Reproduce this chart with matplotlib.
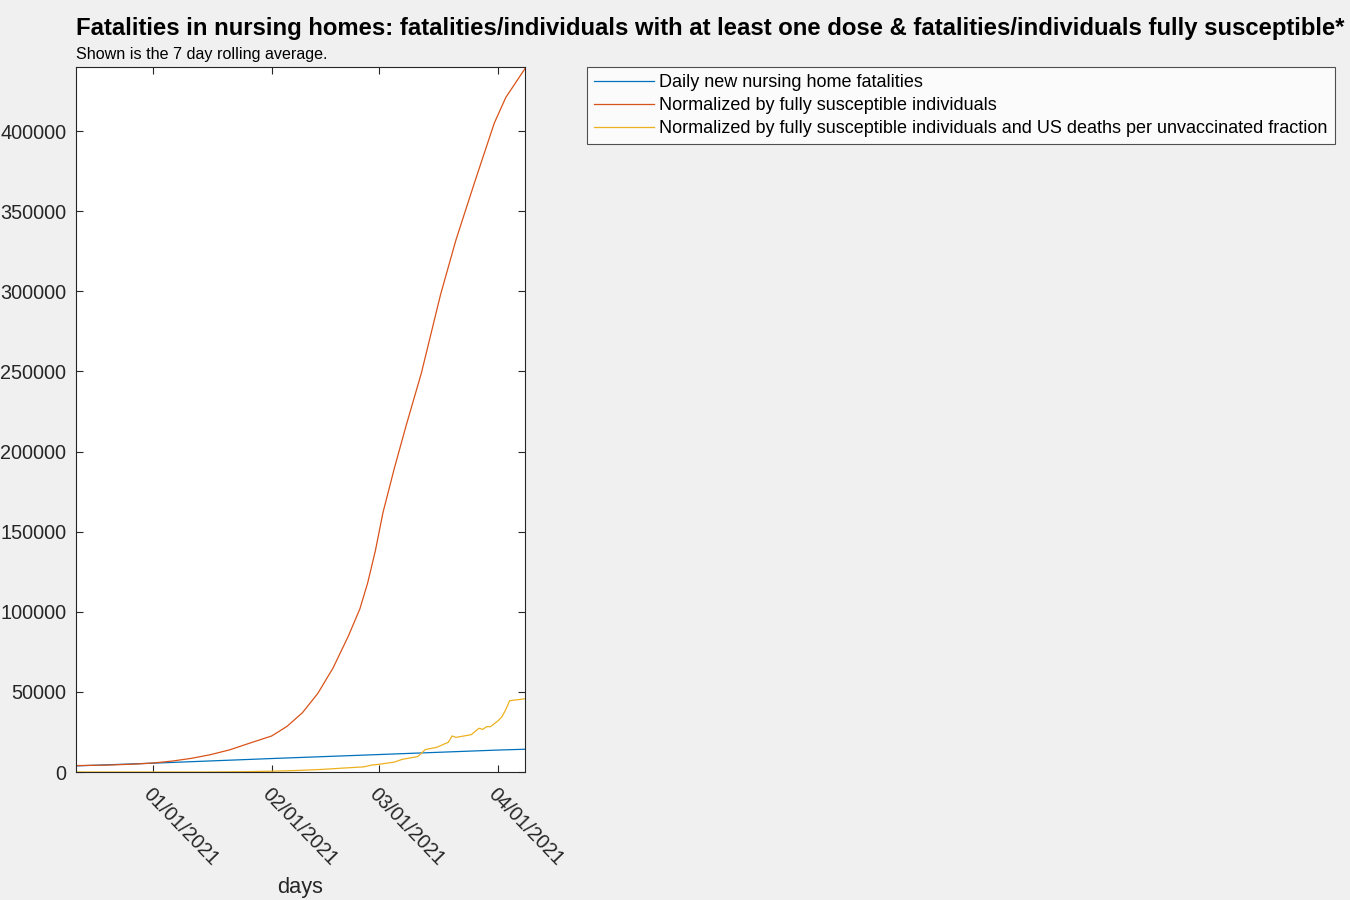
import pandas as pd
import numpy as np
import matplotlib
matplotlib.use("Agg")
import matplotlib.pyplot as plt
import matplotlib.dates as mdates

plt.rcParams['font.family'] = ['Liberation Sans', 'DejaVu Sans']

# blue: daily new nursing home fatalities (7 day avg)
blue_dates = ['2020-12-12', '2021-01-01', '2021-02-01', '2021-03-01', '2021-04-01', '2021-04-08']
blue_vals = [3800, 5500, 8400, 10900, 13700, 14200]

# red: normalized by fully susceptible individuals
red_dates = ['2020-12-12', '2020-12-20', '2020-12-27', '2021-01-01', '2021-01-06', '2021-01-11',
             '2021-01-16', '2021-01-21', '2021-01-26', '2021-02-01', '2021-02-05', '2021-02-09',
             '2021-02-13', '2021-02-17', '2021-02-21', '2021-02-24', '2021-02-26', '2021-02-28',
             '2021-03-02', '2021-03-05', '2021-03-08', '2021-03-12', '2021-03-17', '2021-03-21',
             '2021-03-26', '2021-03-31', '2021-04-03', '2021-04-08']
red_vals = [4000, 4300, 4900, 5600, 6800, 8500,
            10800, 13800, 17800, 22500, 28500, 37000,
            49000, 65000, 85000, 102000, 118000, 138000,
            162000, 190000, 216000, 249000, 298000, 332000,
            369000, 405000, 421000, 439000]

# yellow: normalized by fully susceptible individuals and US deaths per unvaccinated fraction
yel_dates = ['2020-12-12', '2021-01-15', '2021-01-25', '2021-02-01', '2021-02-07', '2021-02-14',
             '2021-02-20', '2021-02-25', '2021-02-27', '2021-03-01', '2021-03-05', '2021-03-07',
             '2021-03-11', '2021-03-12', '2021-03-13', '2021-03-16', '2021-03-18', '2021-03-19',
             '2021-03-20', '2021-03-21', '2021-03-25', '2021-03-27', '2021-03-28', '2021-03-29',
             '2021-03-30', '2021-04-01', '2021-04-02', '2021-04-03', '2021-04-04', '2021-04-08']
yel_vals = [0, 0, 200, 500, 900, 1600,
            2500, 3200, 4300, 4800, 6200, 7900,
            9600, 11700, 14000, 15400, 17500, 18500,
            22500, 21600, 23300, 27300, 26600, 28300,
            28300, 32000, 34500, 39000, 44500, 45700]

labels = ['Daily new nursing home fatalities',
          'Normalized by fully susceptible individuals',
          'Normalized by fully susceptible individuals and US deaths per unvaccinated fraction']
colors = ['#0072BD', '#D95319', '#EDB120']
month_ticks = ['2021-01-01', '2021-02-01', '2021-03-01', '2021-04-01']

fig = plt.figure(figsize=(13.5, 9), dpi=100, facecolor='#f0f0f0')
ax = fig.add_axes([76/1350, 1-772/900, (525-76)/1350, (772-67)/900])

l1, = ax.plot(pd.to_datetime(blue_dates), blue_vals, color=colors[0], lw=0.9)
l2, = ax.plot(pd.to_datetime(red_dates), red_vals, color=colors[1], lw=0.9)
l3, = ax.plot(pd.to_datetime(yel_dates), yel_vals, color=colors[2], lw=0.9)

ax.set_xlim(pd.Timestamp('2020-12-12'), pd.Timestamp('2021-04-08'))
ax.set_ylim(0, 440000)
ax.set_yticks(np.arange(0, 400001, 50000))
ax.set_xticks(pd.to_datetime(month_ticks))
ax.xaxis.set_major_formatter(mdates.DateFormatter('%m/%d/%Y'))

tc = '#262626'
ax.tick_params(direction='in', top=True, right=True, length=5, width=0.8,
               colors=tc, labelsize=14.3)
ax.tick_params(axis='y', pad=7)
ax.tick_params(axis='x', pad=9)
for s in ax.spines.values():
    s.set_color(tc)
    s.set_linewidth(0.8)
for lab in ax.get_xticklabels():
    lab.set_rotation(-46)
    lab.set_ha('left')
    lab.set_va('top')
    lab.set_rotation_mode('anchor')
ax.set_xlabel('days', fontsize=15.7, color=tc)
ax.xaxis.set_label_coords((300-76)/(525-76), -(888-772)/(772-67))
ax.xaxis.label.set_va('center')

fig.text(76/1350, 1-28/900, 'Fatalities in nursing homes: fatalities/individuals with at least one dose & '
         'fatalities/individuals fully susceptible*', fontsize=17.2, fontweight='bold',
         ha='left', va='center')
fig.text(76/1350, 1-55/900, 'Shown is the 7 day rolling average.', fontsize=11.6,
         ha='left', va='center')

leg = fig.legend([l1, l2, l3], labels, loc='upper left', bbox_to_anchor=(587/1350, 1-67/900),
                 fontsize=13, frameon=True, fancybox=False, handlelength=3.3,
                 borderpad=0.4, labelspacing=0.33, handletextpad=0.3, borderaxespad=0)
leg.get_frame().set_edgecolor(tc)
leg.get_frame().set_linewidth(0.8)

fig.savefig('out.png', dpi=100, facecolor=fig.get_facecolor())
